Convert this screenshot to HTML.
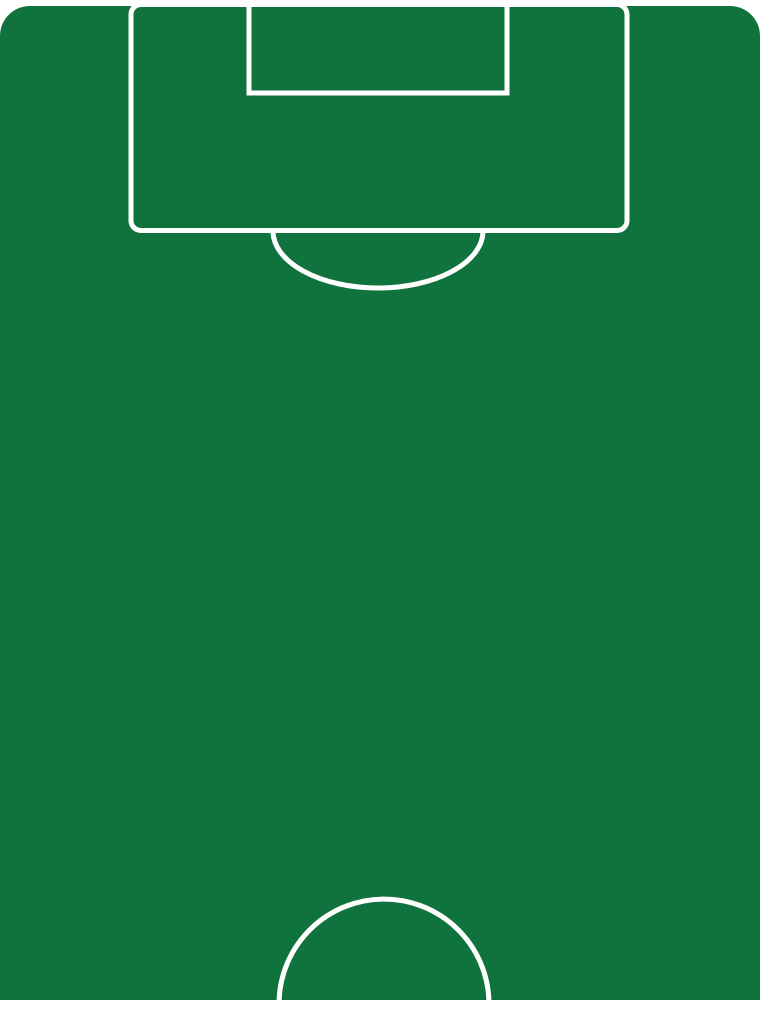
<!DOCTYPE html>
<html><head><style>html,body{margin:0;padding:0;background:#fff;width:760px;height:1010px;overflow:hidden}svg{display:block}</style></head>
<body>
<svg width="760" height="1010" viewBox="0 0 760 1010" xmlns="http://www.w3.org/2000/svg">
<path d="M0 1000 V36 A30 30 0 0 1 30 6 H730 A30 30 0 0 1 760 36 V1000 Z" fill="#10723c"/>
<g fill="none" stroke="#fff" stroke-width="5">
<path d="M273 231 A105 57 0 0 0 483 231"/>
<rect x="131" y="4.5" width="496" height="226" rx="10" fill="#10723c"/>
<path d="M249 0 V93 H507 V0"/>
<path d="M279.08 1000 A105 105 0 0 1 488.92 1000"/>
</g>
</svg>
</body></html>
